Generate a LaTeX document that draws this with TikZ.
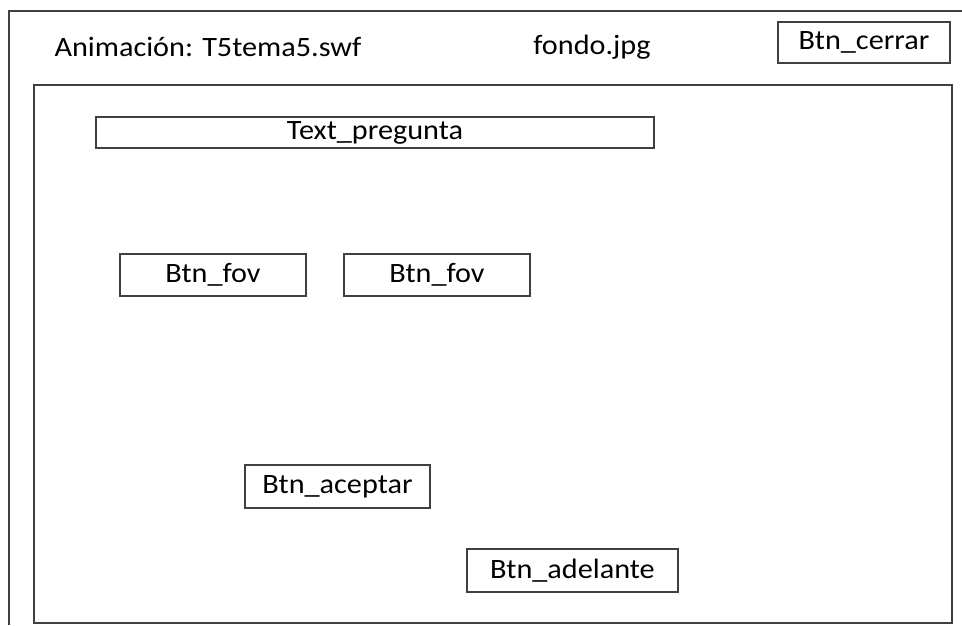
\documentclass[tikz,border=0pt]{standalone}
\usepackage{fontspec}
\setmainfont{Carlito}[FakeStretch=1.08]
\usetikzlibrary{positioning}
\definecolor{linegray}{HTML}{404040}
\tikzstyle{boton} = [rectangle, draw=linegray, line width=1.2pt,
  inner sep=0pt, text=black, font=\fontsize{28}{30}\selectfont]
\tikzstyle{rotulo} = [inner sep=0pt, text=black, font=\fontsize{28}{30}\selectfont]
\begin{document}
\begin{tikzpicture}[x=1pt, y=-1pt]
  \useasboundingbox (0,0) rectangle (962,625);

  % Marco exterior (recortado)
  \coordinate (supder) at (962,11);
  \coordinate (supizq) at (9,11);
  \coordinate (infizq) at (9,625);
  \draw[linegray, line width=1.2pt] (supder) -- (supizq) -- (infizq);

  % Cabecera
  \node[rotulo] (anim) at (208,47) {Animación: T5tema5.swf};
  \node[rotulo] (fondo) at (592,47) {fondo.jpg};
  \node[boton, minimum width=172pt, minimum height=41pt] (cerrar) at (864,42.5) {Btn\_cerrar};

  % Escena
  \node[boton, minimum width=918pt, minimum height=538pt] (escena) at (493,354) {};

  \node[boton, minimum width=558pt, minimum height=31pt] (pregunta) at (375,132.5) {Text\_pregunta};
  \node[boton, minimum width=186pt, minimum height=42pt] (fovA) at (213,275) {Btn\_fov};
  \node[boton, minimum width=186pt, minimum height=42pt] (fovB) at (437,275) {Btn\_fov};
  \node[boton, minimum width=185pt, minimum height=43pt] (aceptar) at (337.5,486.5) {Btn\_aceptar};
  \node[boton, minimum width=211pt, minimum height=43pt] (adelante) at (572.5,570.5) {Btn\_adelante};

\end{tikzpicture}
\end{document}
